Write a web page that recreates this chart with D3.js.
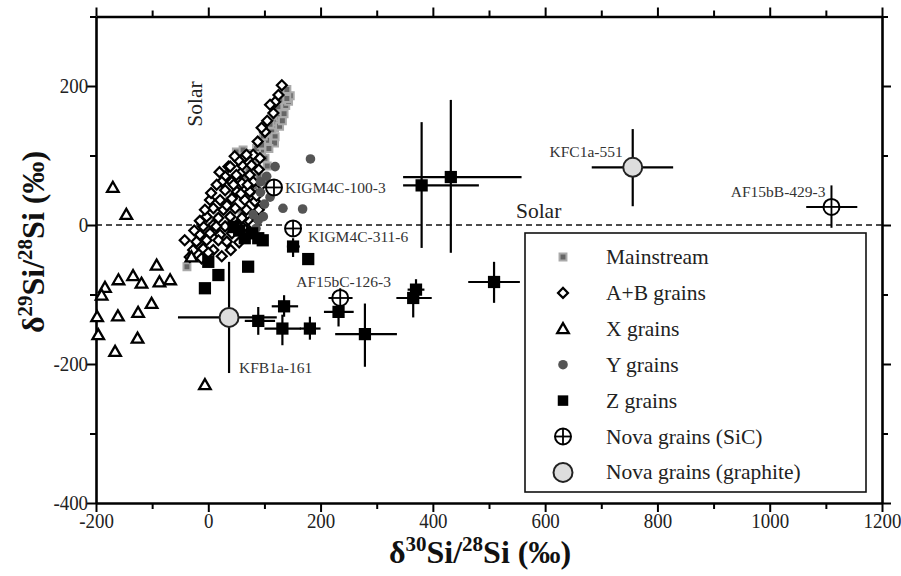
<!DOCTYPE html>
<meta charset="utf-8">
<script src="https://d3js.org/d3.v7.min.js"></script>
<style>
  body { margin: 0; background: #fff; }
  text { font-family: "Liberation Serif", "Times New Roman", serif; }
</style>
<div id="my_dataviz"></div>
<script>

// ---- values (delta 30Si, delta 29Si in permil) ----
var mainstream = [[-38,-60],[-30,-45],[-22,-32],[-15,-25],[-8,-18],[0,-10],[5,-2],[12,5],[18,12],[25,20],
  [30,28],[38,35],[45,45],[52,52],[58,62],[65,70],[72,78],[80,88],[88,98],[95,108],[100,115],[108,122],
  [112,132],[118,140],[122,148],[128,155],[132,165],[138,172],[143,178],[146,186],[135,192],[128,180],
  [50,105],[62,108],[77,103],[86,110],[101,96],[113,134],[119,127],[104,122],[95,115],[70,40],[82,55],
  [60,20],[40,5],[-5,-40],[20,-15],[90,70],[105,85],[75,60],[140,195],[124,170],[110,145],[98,128],
  [135,160],[127,142],[118,118],[108,110],[140,182],[132,150]];
var abGrains = [[65,98],[80,101],[92,96],[36,84],[60,86],[77,86],[57,74],[74,72],[30,70],[24,62],[42,62],
  [60,60],[80,62],[30,50],[51,48],[74,48],[3,36],[21,36],[42,38],[65,36],[83,34],[9,24],[27,22],[48,24],
  [68,22],[-3,12],[18,10],[39,12],[60,10],[-9,-2],[9,0],[30,-2],[51,0],[74,5],[-15,-14],[3,-12],[21,-14],
  [42,-12],[-21,-24],[-3,-22],[18,-22],[33,-24],[-27,-36],[-9,-34],[9,-36],[-33,-46],[-12,-48],[131,201],
  [125,187],[119,177],[110,173],[116,161],[101,134],[68,101],[54,93],[39,84],[95,140],[105,150],[88,120],
  [-42,-22],[90,80],[95,58],[86,42],[90,22],[80,0],[70,-12],[55,-25],[40,-36],[24,-45],[-25,-8],[-15,6],
  [-6,22],[5,46],[15,58],[20,76],[47,99],[50,72],[33,28],[14,-2],[58,45],[45,58],[70,58],[62,-4],[0,-40]];
var xGrains = [[-170,54],[-146,15],[-92,-58],[-160,-79],[-134,-73],[-119,-84],[-87,-82],[-68,-79],
  [-184,-90],[-190,-101],[-101,-113],[-198,-132],[-161,-131],[-125,-126],[-196,-158],[-126,-163],
  [-166,-182],[-6,-230],[-30,-46]];
var yGrains = [[182,95],[119,84],[93,62],[93,47],[133,24],[168,23],[89,7],[100,30],[80,15],[104,70],
  [110,40],[85,-5],[98,12],[108,58]];
var zGrains = [[0,-53],[18,-72],[-6,-91],[71,-60],[89,-19],[65,-19],[178,-49],[55,-8],[78,-12],[97,-22],[45,-3]];
// [x, y, xLo, xHi, yLo, yHi]
var zErr = [[380,57,347,482,-33,148],[432,69,347,558,-40,180],[509,-82,463,555,-112,-53],
  [370,-93,355,385,-110,-78],[365,-105,335,398,-133,-85],[279,-157,226,336,-204,-113],
  [232,-125,206,259,-146,-110],[181,-149,163,200,-165,-132],[132,-149,100,165,-173,-129],
  [135,-117,113,160,-132,-101],[89,-138,65,119,-158,-118],[151,-31,140,163,-46,-19]];
var novaSiC = [[117,54,117,117,54,54],[151,-5,151,151,-5,-5],[235,-105,214,257,-120,-91],[1110,26,1065,1156,-4,57]];
var novaSiCNames = ["KIGM4C-100-3","KIGM4C-311-6","AF15bC-126-3","AF15bB-429-3"];
var novaGraphite = [[37,-133,-54,122,-213,-53],[756,83,683,828,27,138]];
var novaGraphiteNames = ["KFB1a-161","KFC1a-551"];
var legendLabels = ["Mainstream","A+B grains","X grains","Y grains","Z grains","Nova grains (SiC)","Nova grains (graphite)"];

// ---- layout ----
var width = 901, height = 576;
var margin = {top: 16.5, right: 19, bottom: 73, left: 96};

var svg = d3.select("#my_dataviz")
  .append("svg")
    .attr("width", width)
    .attr("height", height);

var x = d3.scaleLinear().domain([-200, 1200]).range([margin.left, width - margin.right]);
var y = d3.scaleLinear().domain([-400, 300]).range([height - margin.bottom, margin.top]);

var xTicks = d3.range(-200, 1201, 100), yTicks = d3.range(-400, 301, 100);
function lab(d) { return d % 200 === 0 ? String(d) : ""; }
function tickLen(d) { return d % 200 === 0 ? 9 : 6; }

function styleAxis(g) {
  g.select(".domain").attr("stroke-width", 2.6);
  g.selectAll(".tick line").attr("stroke-width", 2);
  g.selectAll(".tick text").attr("font-size", 21.5).attr("fill", "#222")
    .attr("transform", "scale(0.88,1)")
    .style("font-family", "'Liberation Serif', serif");
}

// axes on all four sides
svg.append("g")
  .attr("transform", "translate(0," + y(-400) + ")")
  .call(d3.axisBottom(x).tickValues(xTicks).tickFormat(lab).tickSizeOuter(0).tickPadding(4))
  .call(styleAxis)
  .call(function(g) { g.selectAll(".tick line").attr("y2", tickLen); });
svg.append("g")
  .attr("transform", "translate(0," + y(300) + ")")
  .call(d3.axisTop(x).tickValues(xTicks).tickFormat("").tickSizeOuter(0))
  .call(styleAxis)
  .call(function(g) { g.selectAll(".tick line").attr("y2", function(d) { return -tickLen(d); }); });
svg.append("g")
  .attr("transform", "translate(" + x(-200) + ",0)")
  .call(d3.axisLeft(y).tickValues(yTicks).tickFormat(lab).tickSizeOuter(0).tickPadding(3))
  .call(styleAxis)
  .call(function(g) { g.selectAll(".tick line").attr("x2", function(d) { return -tickLen(d); }); });
svg.append("g")
  .attr("transform", "translate(" + x(1200) + ",0)")
  .call(d3.axisRight(y).tickValues(yTicks).tickFormat("").tickSizeOuter(0))
  .call(styleAxis)
  .call(function(g) { g.selectAll(".tick line").attr("x2", tickLen); });

// solar reference line
svg.append("line")
  .attr("x1", x(-200)).attr("x2", x(1200))
  .attr("y1", y(0)).attr("y2", y(0))
  .attr("stroke", "#111").attr("stroke-width", 1.3).attr("stroke-dasharray", "6,4");

svg.append("text")
  .attr("x", x(548)).attr("y", y(0) - 7)
  .attr("font-size", 21.5).attr("fill", "#222").text("Solar");
svg.append("text")
  .attr("transform", "translate(" + (x(-24) + 7) + "," + y(174) + ") rotate(-90)")
  .attr("text-anchor", "middle")
  .attr("font-size", 21.5).attr("fill", "#222").text("Solar");

// axis titles
function title(t, iso) {
  t.append("tspan").text("\u03b4");
  t.append("tspan").attr("dy", -12).attr("font-size", 21).text(iso);
  t.append("tspan").attr("dy", 12).text("Si/");
  t.append("tspan").attr("dy", -12).attr("font-size", 21).text("28");
  t.append("tspan").attr("dy", 12).text("Si (\u2030)");
}
svg.append("text")
  .attr("x", 480).attr("y", 563)
  .attr("text-anchor", "middle").attr("font-weight", "bold").attr("font-size", 32).attr("fill", "#111")
  .call(title, "30");
svg.append("text")
  .attr("transform", "translate(44,242) rotate(-90)")
  .attr("text-anchor", "middle").attr("font-weight", "bold").attr("font-size", 32).attr("fill", "#111")
  .call(title, "29");

// ---- symbol painters ----
var sq = function(s) { return d3.symbol().type(d3.symbolSquare).size(s)(); };
var tri = d3.symbol().type(d3.symbolTriangle).size(58)();

function drawMain(g, cx, cy) {
  g.append("path").attr("d", sq(48)).attr("transform", "translate(" + cx + "," + cy + ")")
    .attr("fill", "#666").attr("stroke", "#aaa").attr("stroke-width", 2);
}
function drawAB(g, cx, cy) {
  g.append("path").attr("d", sq(50)).attr("transform", "translate(" + cx + "," + cy + ") rotate(45)")
    .attr("fill", "#fff").attr("stroke", "#000").attr("stroke-width", 2.2);
}
function drawX(g, cx, cy) {
  g.append("path").attr("d", tri).attr("transform", "translate(" + cx + "," + (cy + 1) + ")")
    .attr("fill", "#fff").attr("stroke", "#000").attr("stroke-width", 2.3);
}
function drawY(g, cx, cy) {
  g.append("circle").attr("cx", cx).attr("cy", cy).attr("r", 4.8).attr("fill", "#555");
}
function drawZ(g, cx, cy) {
  g.append("path").attr("d", sq(150)).attr("transform", "translate(" + cx + "," + cy + ")").attr("fill", "#000");
}
function drawSiC(g, cx, cy) {
  g.append("circle").attr("cx", cx).attr("cy", cy).attr("r", 8)
    .attr("fill", "#fff").attr("stroke", "#000").attr("stroke-width", 2);
  g.append("line").attr("x1", cx - 8).attr("x2", cx + 8).attr("y1", cy).attr("y2", cy).attr("stroke", "#000").attr("stroke-width", 1.8);
  g.append("line").attr("x1", cx).attr("x2", cx).attr("y1", cy - 8).attr("y2", cy + 8).attr("stroke", "#000").attr("stroke-width", 1.8);
}
function drawGraphite(g, cx, cy) {
  g.append("circle").attr("cx", cx).attr("cy", cy).attr("r", 9.5)
    .attr("fill", "#ddd").attr("stroke", "#222").attr("stroke-width", 2);
}

function errBars(g, rows, w) {
  rows.forEach(function(d) {
    g.append("line").attr("x1", x(d[2])).attr("x2", x(d[3])).attr("y1", y(d[1])).attr("y2", y(d[1]))
      .attr("stroke", "#000").attr("stroke-width", w);
    g.append("line").attr("x1", x(d[0])).attr("x2", x(d[0])).attr("y1", y(d[4])).attr("y2", y(d[5]))
      .attr("stroke", "#000").attr("stroke-width", w);
  });
}

var plot = svg.append("g");
mainstream.forEach(function(d) { drawMain(plot, x(d[0]), y(d[1])); });
abGrains.forEach(function(d) { drawAB(plot, x(d[0]), y(d[1])); });
yGrains.forEach(function(d) { drawY(plot, x(d[0]), y(d[1])); });
xGrains.forEach(function(d) { drawX(plot, x(d[0]), y(d[1])); });
errBars(plot, zErr, 2.2);
errBars(plot, novaSiC, 2);
errBars(plot, novaGraphite, 2.2);
zGrains.forEach(function(d) { drawZ(plot, x(d[0]), y(d[1])); });
zErr.forEach(function(d) { drawZ(plot, x(d[0]), y(d[1])); });
novaSiC.forEach(function(d) { drawSiC(plot, x(d[0]), y(d[1])); });
novaGraphite.forEach(function(d) { drawGraphite(plot, x(d[0]), y(d[1])); });

// grain name labels: [dx, dy, anchor]
var sicLabelPos = [[11, 6, "start"], [15, 14, "start"], [-44, -11, "start"], [-6, -10, "end"]];
var graphiteLabelPos = [[10, 56, "start"], [-10, -10, "end"]];
function nameLabels(rows, names, pos) {
  rows.forEach(function(d, i) {
    plot.append("text")
      .attr("x", x(d[0]) + pos[i][0]).attr("y", y(d[1]) + pos[i][1])
      .attr("text-anchor", pos[i][2])
      .attr("font-size", 15.5).attr("fill", "#333").text(names[i]);
  });
}
nameLabels(novaSiC, novaSiCNames, sicLabelPos);
nameLabels(novaGraphite, novaGraphiteNames, graphiteLabelPos);

// ---- legend ----
var leg = svg.append("g");
leg.append("rect").attr("x", 525).attr("y", 233).attr("width", 341).attr("height", 259)
  .attr("fill", "#fff").attr("stroke", "#111").attr("stroke-width", 1.6);
var painters = [drawMain, drawAB, drawX, drawY, drawZ, drawSiC, drawGraphite];
legendLabels.forEach(function(name, i) {
  var cy = 257 + i * 35.9;
  var g = leg.append("g");
  if (i === 4) {
    g.append("path").attr("d", sq(110)).attr("transform", "translate(563," + cy + ")").attr("fill", "#000");
  } else {
    painters[i](g, 563, cy);
  }
  g.append("text").attr("x", 606).attr("y", cy + 7)
    .attr("font-size", 21.5).attr("fill", "#222").text(name);
});

</script>
